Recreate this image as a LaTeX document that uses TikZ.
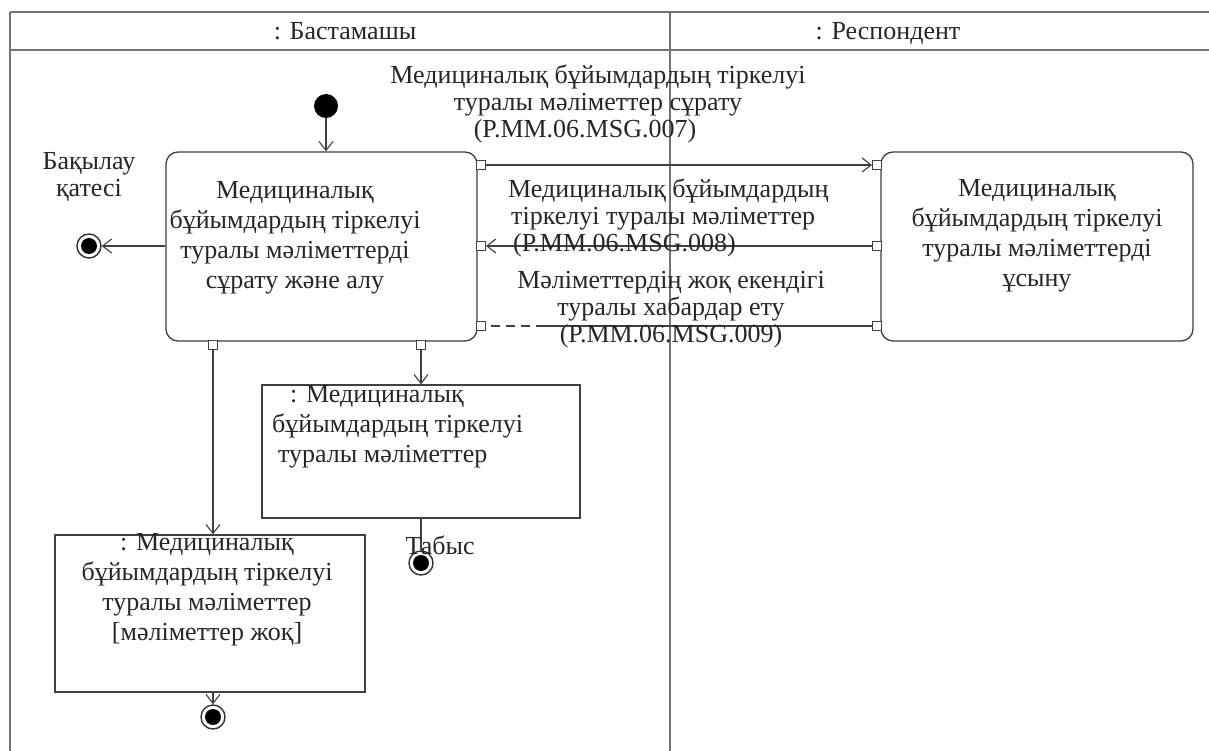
\documentclass[tikz,border=0pt]{standalone}
\usepackage{fontspec}
\setmainfont{Liberation Serif}
\usetikzlibrary{arrows.meta}
\begin{document}
\begin{tikzpicture}[x=1pt,y=-1pt,
  txt/.style={font=\fontsize{26}{30}\selectfont, align=center, inner sep=0pt, text=black!85},
  msg/.style={font=\fontsize{26}{27}\selectfont, align=center, inner sep=0pt, text=black!85},
  hdr/.style={font=\fontsize{26}{28}\selectfont, inner sep=0pt, text=black!85, anchor=base},
  act/.style={draw=black!75, line width=1.3pt, rounded corners=12pt, inner sep=0pt},
  obj/.style={draw=black!75, line width=1.3pt, inner sep=0pt},
  pinbox/.style={draw=black!75, fill=white, line width=1pt, minimum size=9pt, inner sep=0pt},
  flow/.style={draw=black!75, line width=1.1pt, -{Straight Barb[length=9pt,width=14pt]}},
  plain/.style={draw=black!75, line width=1.1pt},
  lane/.style={draw=black!55, line width=2pt},
  initnode/.style={circle, fill=black, minimum size=24pt, inner sep=0pt},
  finalnode/.style={circle, draw=black!80, fill=white, line width=1.4pt, minimum size=24pt, inner sep=0pt,
    path picture={\fill[black] (path picture bounding box.center) circle (8pt);}}
]
\useasboundingbox (0,0) rectangle (1209,751);
\fill[white] (0,0) rectangle (1209,751);

% swimlane frame
\draw[lane] (10,12) -- (1209,12);
\draw[lane] (10,50) -- (1209,50);
\draw[lane] (10,12) -- (10,751);
\draw[lane] (670,12) -- (670,751);
\node[hdr] (h1) at (345,40) {: Бастамашы};
\node[hdr] (h2) at (888,40) {: Респондент};

% actions
\node[act, minimum width=311pt, minimum height=189pt] (A) at (321.5,246.5) {};
\node[txt] (At) at (295,238) {Медициналық\\бұйымдардың тіркелуі\\туралы мәліметтерді\\сұрату және алу};
\node[act, minimum width=312pt, minimum height=189pt] (B) at (1037,246.5) {};
\node[txt] (Bt) at (1037,236) {Медициналық\\бұйымдардың тіркелуі\\туралы мәліметтерді\\ұсыну};

% object nodes
\node[obj, minimum width=318pt, minimum height=133pt] (O1) at (421,451.5) {};
\node[txt, align=left, anchor=west] (O1t) at (272,427) {\hspace*{18pt}: Медициналық\\бұйымдардың тіркелуі\\\hspace*{6pt}туралы мәліметтер};
\node[obj, minimum width=310pt, minimum height=157pt] (O2) at (210,613.5) {};
\node[txt] (O2t) at (207,590) {: Медициналық\\бұйымдардың тіркелуі\\туралы мәліметтер\\{[}мәліметтер жоқ{]}};

% pins
\node[pinbox] (pA1) at (481,165) {};
\node[pinbox] (pA2) at (481,246) {};
\node[pinbox] (pA3) at (481,326) {};
\node[pinbox] (pB1) at (877,165) {};
\node[pinbox] (pB2) at (877,246) {};
\node[pinbox] (pB3) at (877,326) {};
\node[pinbox] (pA4) at (213,345) {};
\node[pinbox] (pA5) at (421,345) {};

% initial / final nodes
\node[initnode] (I) at (326,106) {};
\node[finalnode] (F0) at (89,246) {};
\node[finalnode] (F1) at (421,563) {};
\node[finalnode] (F2) at (213,717) {};

% flows
\draw[flow] (I) -- (I |- A.north);
\draw[flow] (A.west |- F0) -- (F0);
\draw[flow] (pA1) -- (pB1);
\draw[flow] (pB2) -- (pA2);
\coordinate (m3) at (545,326);
\draw[plain] (pB3) -- (m3);
\draw[plain, dashed, dash pattern=on 9pt off 6pt] (m3) -- (pA3);
\draw[flow] (pA4) -- (pA4 |- O2.north);
\draw[flow] (pA5) -- (pA5 |- O1.north);
\draw[plain] (O1.south -| F1) -- (F1);
\draw[flow] (O2.south -| F2) -- (F2);

% labels
\node[msg] (L0) at (89,177) {Бақылау\\қатесі};
\node[msg] (L7) at (598,104) {Медициналық бұйымдардың тіркелуі\\туралы мәліметтер сұрату\hspace*{40pt}\\(P.MM.06.MSG.007)\hspace*{26pt}};
\node[msg, align=left, anchor=west] (L8) at (508,218) {Медициналық бұйымдардың\\\hspace*{3pt}тіркелуі туралы мәліметтер\\\hspace*{5pt}(P.MM.06.MSG.008)};
\node[msg] (L9) at (671,310) {Мәліметтердің жоқ екендігі\\туралы хабардар ету\\(P.MM.06.MSG.009)};
\node[msg] (LT) at (440,545) {Табыс};
\end{tikzpicture}
\end{document}
